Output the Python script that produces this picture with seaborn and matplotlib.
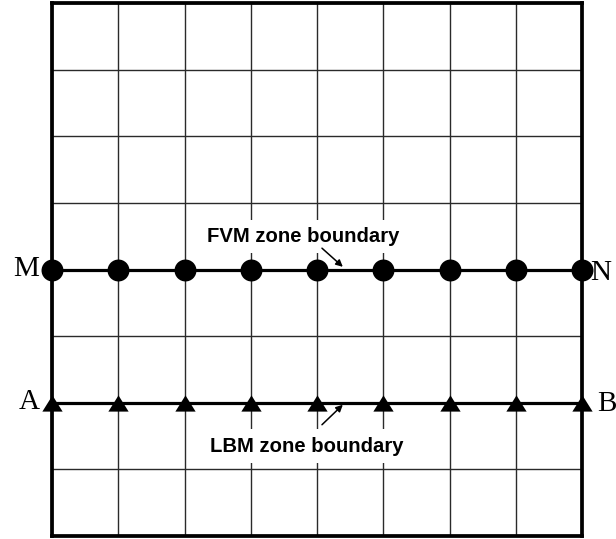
import matplotlib
matplotlib.use("Agg")
import matplotlib.pyplot as plt
import seaborn as sns
import pandas as pd
import numpy as np
from matplotlib.path import Path
from matplotlib.markers import MarkerStyle

# ---- data ----
grid_x = [0, 1, 2, 3, 4, 5, 6, 7, 8]
grid_y = [0, 1, 2, 3, 4, 5, 6, 7, 8]
fvm_x = [0, 1, 2, 3, 4, 5, 6, 7, 8]
fvm_y = [4, 4, 4, 4, 4, 4, 4, 4, 4]
lbm_x = [0, 1, 2, 3, 4, 5, 6, 7, 8]
lbm_y = [2, 2, 2, 2, 2, 2, 2, 2, 2]
end_labels_fvm = ["M", "N"]
end_labels_lbm = ["A", "B"]
fvm_label = "FVM zone boundary"
lbm_label = "LBM zone boundary"

sns.set_style("white")
plt.rcParams["font.family"] = ["Liberation Sans", "DejaVu Sans"]
plt.rcParams["text.color"] = "black"

fig = plt.figure(figsize=(6.16, 5.39), dpi=100)
ax = fig.add_axes([52 / 616, 3 / 539, 530 / 616, 533 / 539])

df_fvm = pd.DataFrame({"x": fvm_x, "y": fvm_y})
df_lbm = pd.DataFrame({"x": lbm_x, "y": lbm_y})

sns.lineplot(data=df_fvm, x="x", y="y", color="black", lw=2.3, ax=ax, zorder=4)
sns.lineplot(data=df_lbm, x="x", y="y", color="black", lw=2.3, ax=ax, zorder=4)

sns.scatterplot(data=df_fvm, x="x", y="y", color="black", s=15.8 ** 2,
                marker="o", edgecolor="black", linewidth=0, ax=ax, zorder=5, clip_on=False)
tri = Path([(0, 0.8), (-1, -0.8), (1, -0.8), (0, 0.8)],
           [Path.MOVETO, Path.LINETO, Path.LINETO, Path.CLOSEPOLY])
sns.scatterplot(data=df_lbm, x="x", y="y", color="black", s=14.6 ** 2,
                marker=MarkerStyle(tri), edgecolor="black", linewidth=0, ax=ax,
                zorder=5, clip_on=False)

ax.set_xlim(grid_x[0], grid_x[-1])
ax.set_ylim(grid_y[0], grid_y[-1])
ax.set_xticks(grid_x)
ax.set_yticks(grid_y)
ax.set_xticklabels([])
ax.set_yticklabels([])
ax.tick_params(length=0)
ax.set_xlabel("")
ax.set_ylabel("")
ax.grid(True, color="#2a2a2a", lw=1.0)
ax.set_axisbelow(True)
for sp in ax.spines.values():
    sp.set_visible(True)
    sp.set_color("black")
    sp.set_linewidth(2.7)
    sp.set_zorder(6)

serif = ["Liberation Serif", "DejaVu Serif"]
ax.text(-0.19, fvm_y[0], end_labels_fvm[0], ha="right", va="center",
        fontsize=21, family=serif, color="black", clip_on=False)
ax.text(8.12, fvm_y[-1] - 0.05, end_labels_fvm[1], ha="left", va="center",
        fontsize=21, family=serif, color="black", clip_on=False)
ax.text(-0.18, lbm_y[0] + 0.01, end_labels_lbm[0], ha="right", va="center",
        fontsize=21, family=serif, color="black", clip_on=False)
ax.text(8.23, lbm_y[-1] - 0.02, end_labels_lbm[1], ha="left", va="center",
        fontsize=21, family=serif, color="black", clip_on=False)

bb = dict(boxstyle="square,pad=0.35", facecolor="white", edgecolor="none")
ax.text(3.79, 4.50, fvm_label, ha="center", va="center", fontsize=14.6,
        fontweight="bold", color="black", bbox=bb, zorder=3)
ax.text(3.85, 1.35, lbm_label, ha="center", va="center", fontsize=14.6,
        fontweight="bold", color="black", bbox=bb, zorder=3)

ap = dict(arrowstyle="-|>", color="black", lw=1.1, mutation_scale=10,
          shrinkA=0, shrinkB=0)
ax.annotate("", xy=(4.39, 4.04), xytext=(4.075, 4.32), arrowprops=ap, zorder=6)
ax.annotate("", xy=(4.39, 1.97), xytext=(4.075, 1.67), arrowprops=ap, zorder=6)

fig.savefig("out.png", dpi=100)
